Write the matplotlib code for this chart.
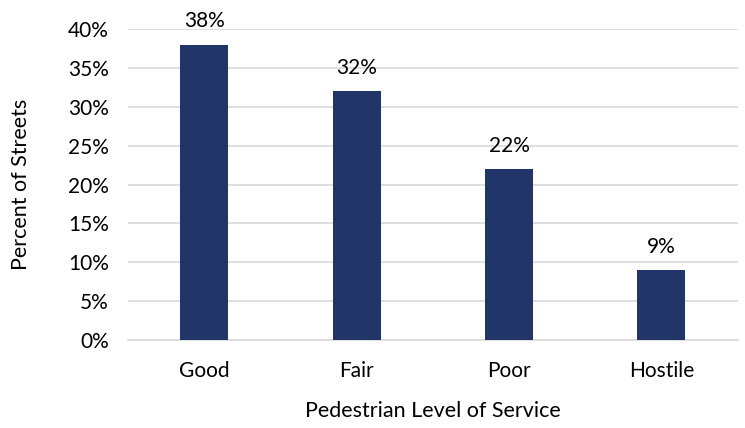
import matplotlib
matplotlib.use("Agg")
import matplotlib.pyplot as plt
from matplotlib.ticker import PercentFormatter

categories = ["Good", "Fair", "Poor", "Hostile"]
shares = [38, 32, 22, 9]
y_ticks = [0, 5, 10, 15, 20, 25, 30, 35, 40]

plt.rcParams["font.family"] = ["Lato", "DejaVu Sans"]

fig = plt.figure(figsize=(7.45, 4.28), dpi=100)
ax = fig.add_axes([0.172, 0.2056, 0.818, 0.7264])

x = range(len(categories))
bars = ax.bar(x, shares, width=0.315, color="#213569", zorder=3)
for b, v in zip(bars, shares):
    ax.annotate(f"{v}%", (b.get_x() + b.get_width() / 2, v),
                xytext=(0, 9.5), textcoords="offset points",
                ha="center", va="bottom", fontsize=15, color="#000000")

ax.set_xlim(-0.5, len(categories) - 0.5)
ax.set_ylim(0, 40)
ax.set_yticks(y_ticks)
ax.yaxis.set_major_formatter(PercentFormatter(decimals=0))
ax.set_xticks(list(x))
ax.set_xticklabels(categories)
ax.tick_params(axis="both", length=0, labelsize=15, colors="#000000")
ax.tick_params(axis="x", pad=15)
ax.tick_params(axis="y", pad=14)

ax.grid(axis="y", color="#d9d9d9", linewidth=1.2, zorder=0)
for side in ["top", "right", "left"]:
    ax.spines[side].set_visible(False)
ax.spines["bottom"].set_color("#d9d9d9")
ax.spines["bottom"].set_linewidth(1.2)

# axis-label anchors: 311 px plot height, 609.4 px plot width
ax.set_xlabel("Pedestrian Level of Service", fontsize=15.5)
ax.xaxis.set_label_coords(0.5, -(401 - 340) / 311.0)
ax.set_ylabel("Percent of Streets", fontsize=15.5)
ax.yaxis.set_label_coords(-(128 - 31) / 609.4, 0.5)

fig.savefig("out.png", dpi=100)
